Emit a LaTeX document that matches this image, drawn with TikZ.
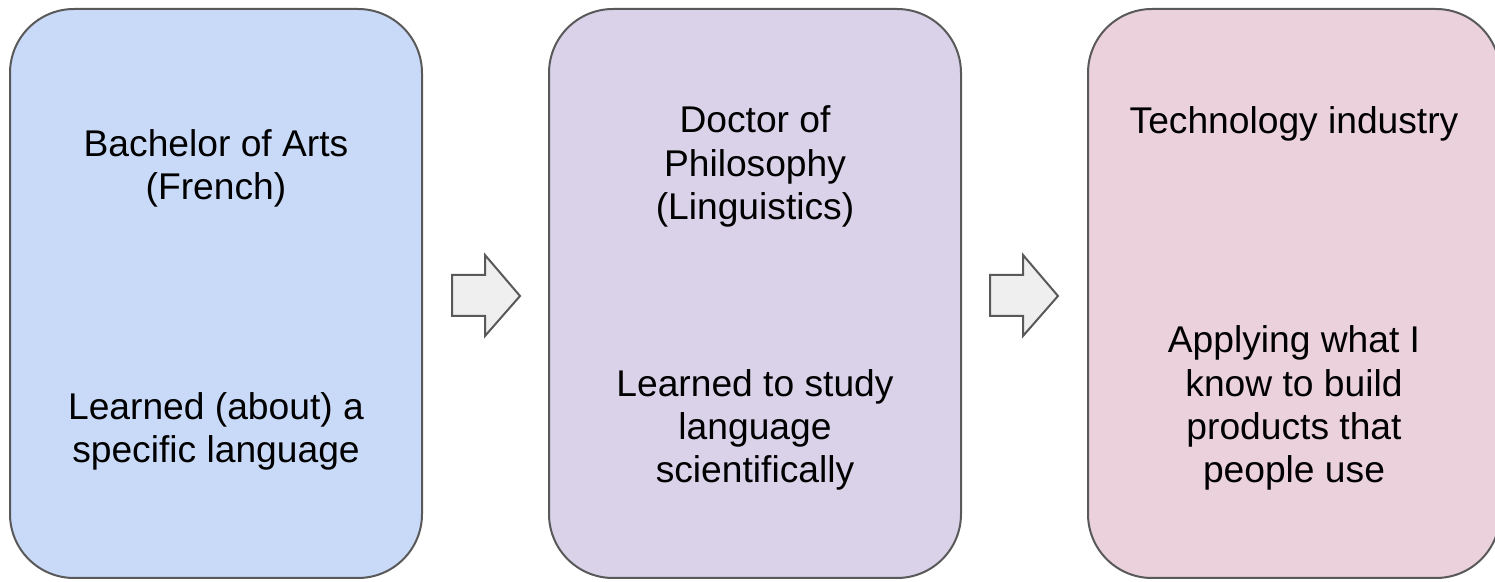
\documentclass[tikz,border=0pt]{standalone}
\usepackage{fontspec}
\setmainfont{Liberation Sans}
\definecolor{bluebg}{HTML}{C9DAF8}
\definecolor{purplebg}{HTML}{D9D2E9}
\definecolor{pinkbg}{HTML}{EAD1DC}
\definecolor{edgegray}{HTML}{595959}
\definecolor{arrowbg}{HTML}{EFEFEF}
\tikzset{
	stage/.style={draw=edgegray, line width=1pt, rounded corners=32pt},
	stepto/.style={draw=edgegray, fill=arrowbg, line width=1pt, line join=miter},
	words/.style={align=center, anchor=base, inner sep=0pt, font=\fontsize{18.6}{21.75}\selectfont}
}
\begin{document}
\begin{tikzpicture}[x=0.5pt, y=-0.5pt]
	\useasboundingbox (0,0) rectangle (1495,582);
	
	%boxes
	\draw[stage, fill=bluebg] (10,9) rectangle (422,578);
	\draw[stage, fill=purplebg] (549,9) rectangle (961,578);
	\draw[stage, fill=pinkbg] (1088,9) rectangle (1500,578);
	
	%arrows in between
	\foreach \dx in {0, 538}{
		\draw[stepto] (452+\dx,275) -- (485+\dx,275) -- (485+\dx,255) -- (520+\dx,296)
			-- (485+\dx,336) -- (485+\dx,316) -- (452+\dx,316) -- cycle;
	}
	
	%base is the last line
	\node[words] (ba) at (216, 200){Bachelor of Arts\\(French)};
	\node[words] (balearn) at (216, 463){Learned (about) a\\specific language};
	
	\node[words] (phd) at (755, 220){Doctor of\\Philosophy\\(Linguistics)};
	\node[words] (phdlearn) at (755, 483){Learned to study\\language\\scientifically};
	
	\node[words] (tech) at (1294, 134){Technology industry};
	\node[words] (techapply) at (1294, 483){Applying what I\\know to build\\products that\\people use};
\end{tikzpicture}
\end{document}
